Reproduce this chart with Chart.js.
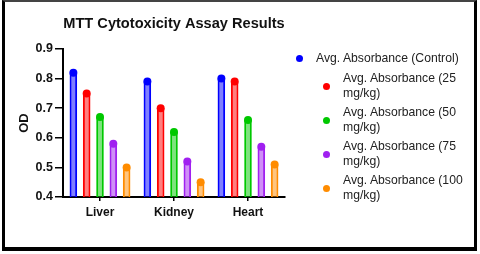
<!DOCTYPE html>
<html>
<head>
<meta charset="utf-8">
<script src="https://cdn.jsdelivr.net/npm/chart.js@4.4.1/dist/chart.umd.min.js"></script>
<style>
    html, body { margin: 0; padding: 0; background: #fff; }
    body { width: 480px; height: 254px; position: relative; overflow: hidden; font-family: "Liberation Sans", Arial, sans-serif; }
    #frame {
        position: absolute; left: 2px; top: 0; width: 469px; height: 245px;
        border-left: 3px solid #000; border-right: 3px solid #000;
        border-bottom: 4px solid #000; border-top: 2px solid #444;
    }
    #chart-box { position: absolute; left: 0; top: 0; width: 469px; height: 245px; }
    #legend {
        position: absolute; left: 296px; top: 51px;
        display: flex; flex-direction: column; gap: 4px;
        font-size: 12.2px; line-height: 15px; color: #222;
    }
    .item { display: flex; align-items: center; gap: 13px; }
    .item.first { margin-bottom: 1px; }
    .item.wrap { margin-left: 27px; }
    .dot { width: 7px; height: 7px; border-radius: 50%; flex: none; }
</style>
</head>
<body>
<div id="frame">
    <div id="chart-box"><canvas id="odChart"></canvas></div>
</div>
<div id="legend"></div>

<script>
// Data
const organs = ['Liver', 'Kidney', 'Heart'];
const seriesNames = [
    'Avg. Absorbance (Control)',
    'Avg. Absorbance (25 mg/kg)',
    'Avg. Absorbance (50 mg/kg)',
    'Avg. Absorbance (75 mg/kg)',
    'Avg. Absorbance (100 mg/kg)'
];
const legendLines = [
    ['Avg. Absorbance (Control)'],
    ['Avg. Absorbance (25', 'mg/kg)'],
    ['Avg. Absorbance (50', 'mg/kg)'],
    ['Avg. Absorbance (75', 'mg/kg)'],
    ['Avg. Absorbance (100', 'mg/kg)']
];
const control = [0.82, 0.79, 0.80];
const dose25 = [0.75, 0.70, 0.79];
const dose50 = [0.67, 0.62, 0.66];
const dose75 = [0.58, 0.52, 0.57];
const dose100 = [0.50, 0.45, 0.51];
const yTicks = [0.4, 0.5, 0.6, 0.7, 0.8, 0.9];

const colors = ['rgb(0,0,255)', 'rgb(255,0,0)', 'rgb(0,200,0)', 'rgb(160,32,240)', 'rgb(255,140,0)'];
const fills = ['rgba(0,0,255,0.5)', 'rgba(255,0,0,0.5)', 'rgba(0,200,0,0.5)', 'rgba(160,32,240,0.5)', 'rgba(255,140,0,0.5)'];

const allSeries = [control, dose25, dose50, dose75, dose100];

const fontFamily = '"Liberation Sans", Arial, sans-serif';

// dot on top of every bar
const topDots = {
    id: 'topDots',
    afterDatasetsDraw(chart) {
        const ctx = chart.ctx;
        chart.data.datasets.forEach((ds, i) => {
            chart.getDatasetMeta(i).data.forEach(bar => {
                ctx.save();
                ctx.beginPath();
                ctx.arc(bar.x, bar.y, 4, 0, Math.PI * 2);
                ctx.fillStyle = colors[i];
                ctx.fill();
                ctx.restore();
            });
        });
    }
};

new Chart(document.getElementById('odChart'), {
    type: 'bar',
    data: {
        labels: organs,
        datasets: allSeries.map((vals, i) => ({
            label: seriesNames[i],
            data: vals,
            backgroundColor: fills[i],
            borderColor: colors[i],
            borderWidth: 2,
            barPercentage: 0.57,
            categoryPercentage: 0.9
        }))
    },
    options: {
        responsive: true,
        maintainAspectRatio: false,
        animation: false,
        layout: { padding: { left: 0, right: 189, top: 0, bottom: 0 } },
        plugins: {
            legend: { display: false },
            tooltip: { enabled: false },
            title: {
                display: true,
                text: 'MTT Cytotoxicity Assay Results',
                fullSize: false,
                color: '#111',
                font: { family: fontFamily, size: 14.6, weight: 'bold', lineHeight: 1.2 },
                padding: { top: 13.5, bottom: 16 }
            }
        },
        scales: {
            x: {
                afterFit: (scale) => { scale.height = 50; },
                grid: { display: true, offset: false, drawOnChartArea: false, drawTicks: true, tickLength: 4, color: '#000', lineWidth: 1.5 },
                border: { display: true, color: '#000', width: 2 },
                ticks: {
                    color: '#111',
                    padding: 4,
                    font: { family: fontFamily, size: 12, weight: 'bold' }
                }
            },
            y: {
                min: 0.4,
                max: 0.9,
                afterFit: (scale) => { scale.width = 58; },
                afterBuildTicks: (scale) => { scale.ticks = yTicks.map(v => ({ value: v })); },
                grid: { display: true, drawOnChartArea: false, drawTicks: true, tickLength: 8, color: '#000', lineWidth: 1.5 },
                border: { display: true, color: '#000', width: 2 },
                ticks: {
                    color: '#111',
                    padding: 2,
                    font: { family: fontFamily, size: 12.5, weight: 'bold' },
                    callback: (v) => Number(v).toFixed(1)
                },
                title: {
                    display: true,
                    text: 'OD',
                    color: '#111',
                    font: { family: fontFamily, size: 13, weight: 'bold' },
                    padding: { top: 12, bottom: 0 }
                }
            }
        }
    },
    plugins: [topDots]
});

// HTML legend
const legendEl = document.getElementById('legend');
legendLines.forEach((lines, i) => {
    const item = document.createElement('div');
    item.className = 'item ' + (i === 0 ? 'first' : 'wrap');
    item.innerHTML = `<span class="dot" style="background:${colors[i]}"></span><span>${lines.join('<br>')}</span>`;
    legendEl.appendChild(item);
});
</script>
</body>
</html>
